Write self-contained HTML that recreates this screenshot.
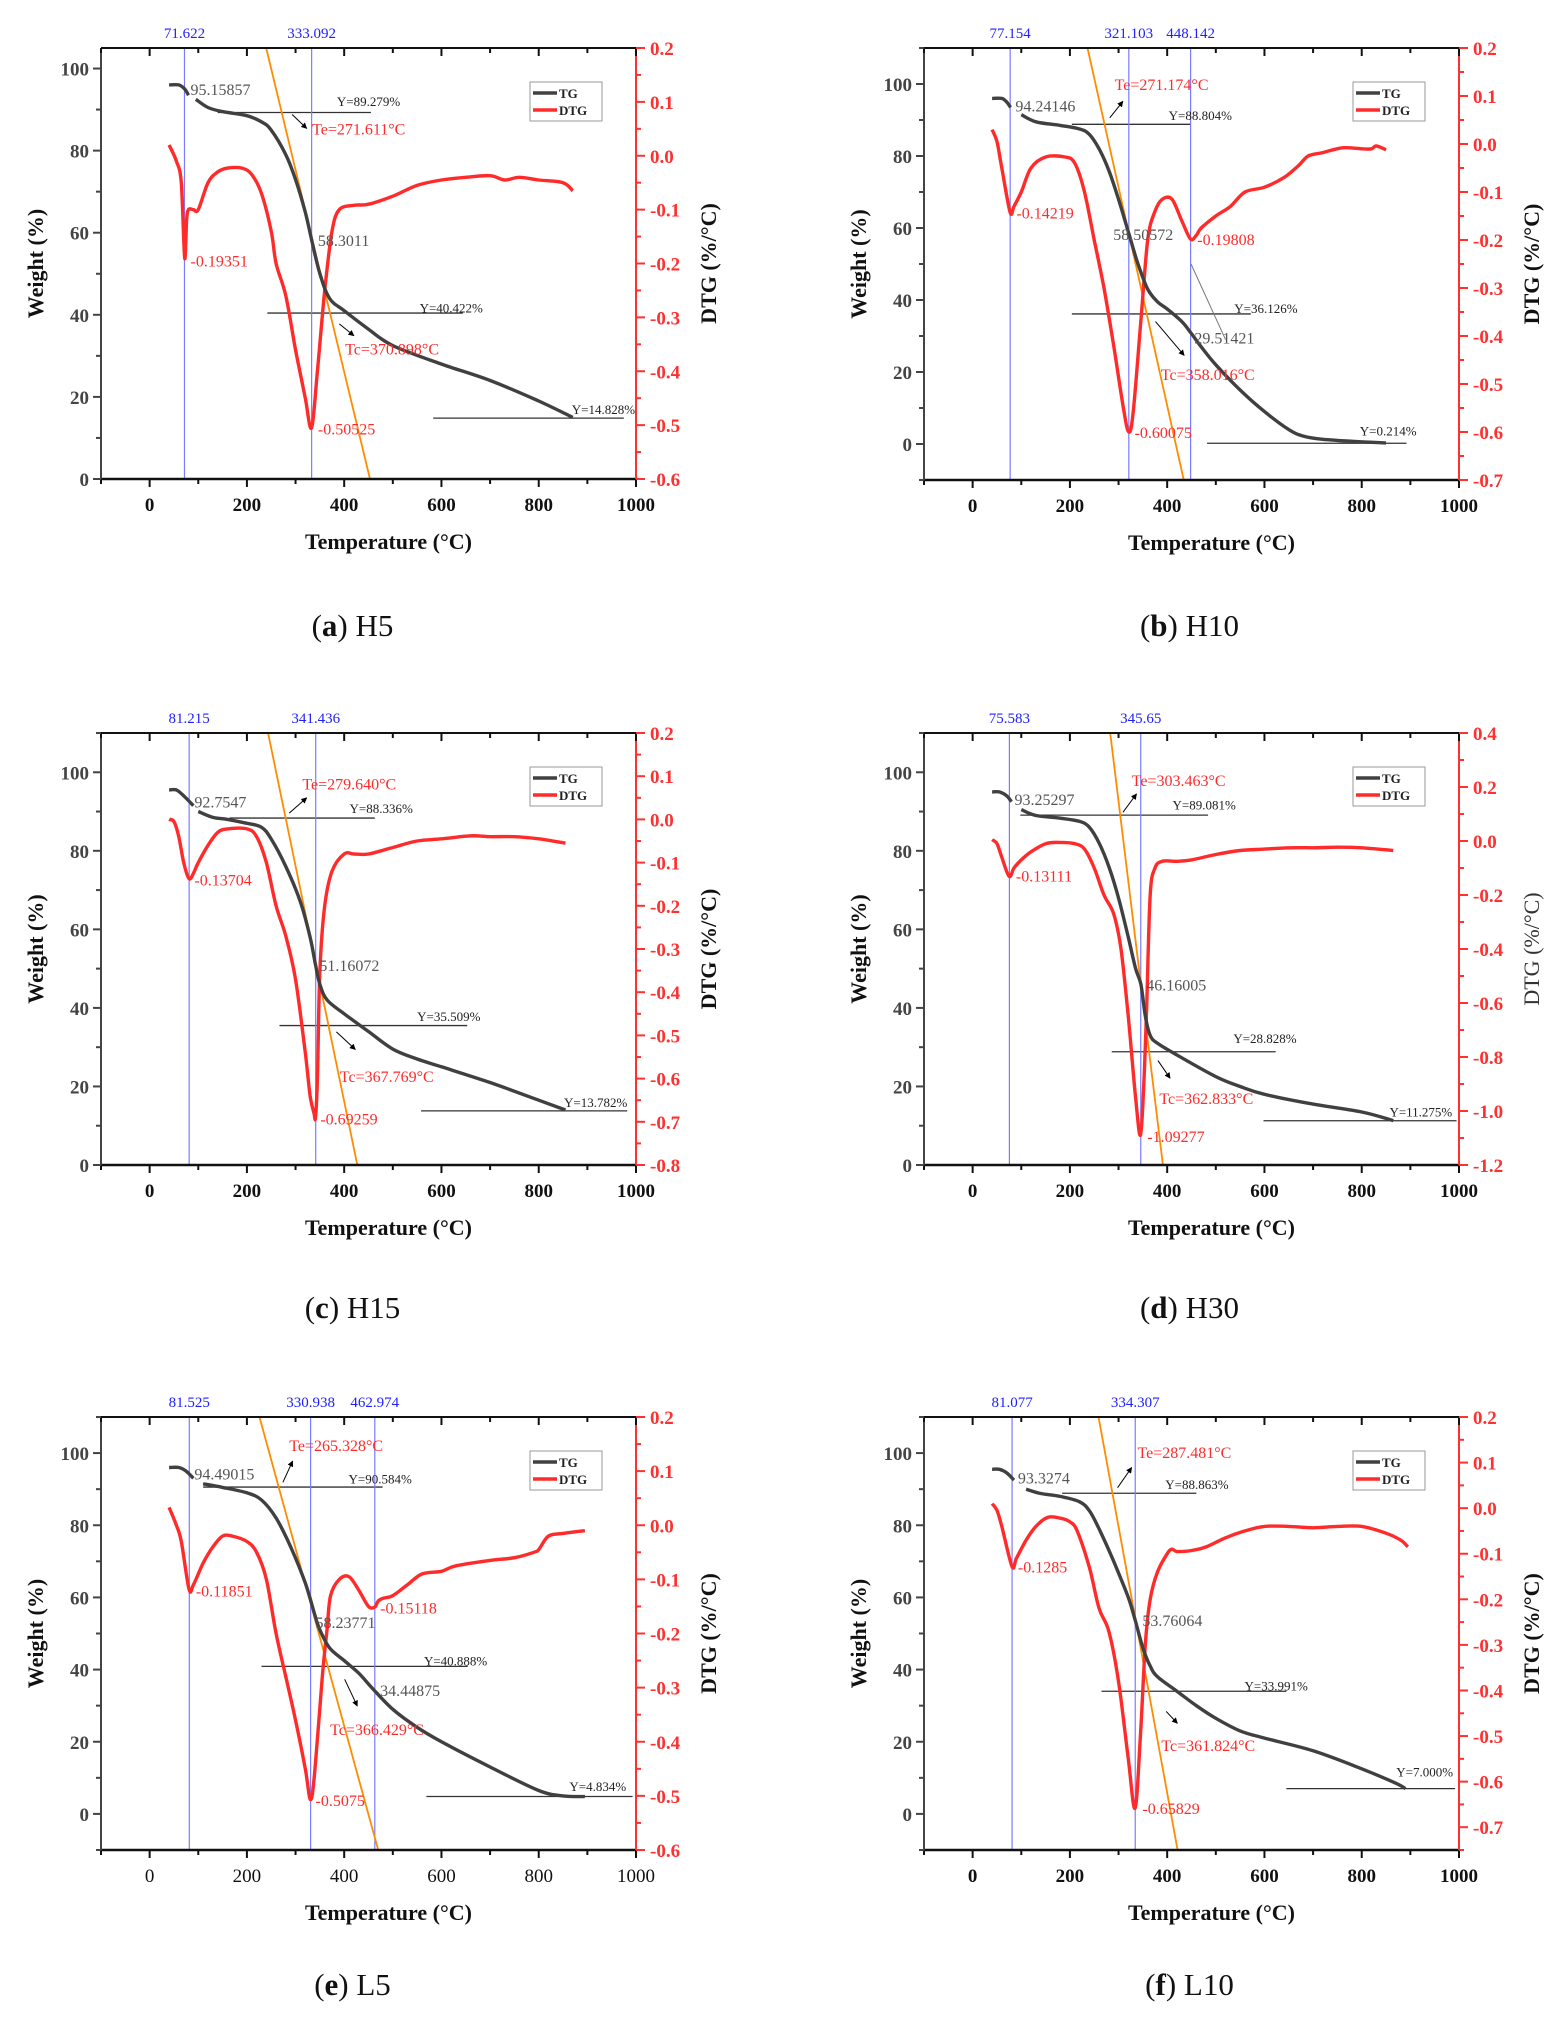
<!DOCTYPE html>
<html><head><meta charset="utf-8">
<style>
html,body{margin:0;padding:0;background:#fff;}
svg{display:block;font-family:"Liberation Serif",serif;}
</style></head>
<body>
<svg id="fig" width="1552" height="2018" viewBox="0 0 1552 2018" xmlns="http://www.w3.org/2000/svg"></svg>
<script>
// ---------- data (temperature °C, weight %, DTG %/°C) ----------
const tgT_a=[40,60,72,80,null,95,120,150,200,230,250,280,300,320,333,350,370,400,450,500,600,700,800,870];
const tgW_a=[96,96,95,93.5,null,92.5,90.5,89.5,88.5,87,85,79,73,65,58.3,50,44,41,36.5,32.5,28,24,19,15];
const dT_a=[40,55,65,72,76,80,90,100,120,140,160,190,210,230,250,260,280,300,320,333,345,360,375,390,420,450,500,550,600,650,700,730,760,800,850,870];
const dV_a=[0.02,-0.01,-0.05,-0.19,-0.12,-0.1,-0.1,-0.1,-0.05,-0.03,-0.023,-0.023,-0.035,-0.07,-0.14,-0.2,-0.26,-0.36,-0.45,-0.505,-0.4,-0.25,-0.14,-0.1,-0.092,-0.09,-0.075,-0.055,-0.045,-0.04,-0.037,-0.045,-0.04,-0.045,-0.05,-0.065];

const tgT_b=[40,60,70,78,null,100,130,180,220,240,260,280,300,321,340,360,380,400,430,448,470,500,550,600,650,680,720,800,850];
const tgW_b=[96,96,95,93.5,null,91.5,89.5,88.5,87.5,86,82,76,68,58.5,50,43,39.5,37.5,34,31,27,22,15,9,4,2.2,1.3,0.6,0.3];
const dT_b=[40,50,60,77,85,100,120,150,190,210,230,250,270,290,310,321,330,345,360,375,390,410,430,448,460,470,500,530,560,600,640,670,690,720,760,800,820,830,850];
const dV_b=[0.03,0.005,-0.05,-0.142,-0.13,-0.1,-0.05,-0.027,-0.027,-0.04,-0.1,-0.2,-0.3,-0.42,-0.55,-0.6,-0.56,-0.38,-0.2,-0.14,-0.115,-0.115,-0.16,-0.198,-0.19,-0.175,-0.15,-0.13,-0.1,-0.09,-0.07,-0.045,-0.025,-0.018,-0.008,-0.01,-0.01,-0.004,-0.012];

const tgT_c=[40,55,70,90,null,100,130,160,200,230,250,280,310,330,341,350,365,400,450,500,550,600,700,800,855];
const tgW_c=[95.5,95.5,94,91.5,null,90,88.5,88,87,86,83,76,67,58,51,46,42,38.5,34,29.5,27,25,21,16.5,14];
const dT_c=[40,50,60,70,81,90,100,120,140,160,200,220,240,260,280,300,320,330,338,341,345,350,360,375,400,420,450,500,550,600,660,700,750,800,855];
const dV_c=[0,-0.005,-0.04,-0.1,-0.137,-0.125,-0.1,-0.06,-0.03,-0.022,-0.022,-0.04,-0.1,-0.2,-0.27,-0.37,-0.54,-0.64,-0.68,-0.69,-0.6,-0.35,-0.2,-0.12,-0.08,-0.08,-0.08,-0.065,-0.05,-0.045,-0.038,-0.04,-0.04,-0.045,-0.055];

const tgT_d=[40,55,70,80,null,100,130,180,220,240,260,280,300,320,335,346,355,365,380,420,500,550,600,700,800,865];
const tgW_d=[95,95,94,92.5,null,90.5,89,88.3,87.5,86,82,76,68,58,50,46,38,33,31,28,22.5,20,18,15.5,13.5,11.3];
const dT_d=[40,50,60,75,85,100,120,150,180,210,230,250,270,290,305,320,335,345,352,358,365,375,390,420,450,500,550,600,650,700,750,800,865];
const dV_d=[0.005,-0.01,-0.06,-0.131,-0.1,-0.07,-0.04,-0.01,-0.005,-0.01,-0.03,-0.1,-0.2,-0.27,-0.4,-0.65,-0.95,-1.09,-0.9,-0.6,-0.2,-0.1,-0.075,-0.075,-0.07,-0.05,-0.035,-0.03,-0.025,-0.025,-0.023,-0.025,-0.035];

const tgT_e=[40,60,75,90,null,110,150,200,230,260,290,320,340,350,370,400,430,460,500,550,600,700,800,850,895];
const tgW_e=[96,96,95,93,null,91.5,90.5,89,87,82,74,64,55,51,46,42.5,39,34.5,29,24,20,13,6.5,5,4.8];
const dT_e=[40,55,65,81,90,110,130,150,170,200,220,240,260,280,300,320,331,340,355,365,372,390,410,430,450,463,470,480,500,530,560,600,630,700,750,790,800,820,850,895];
const dV_e=[0.033,0,-0.03,-0.118,-0.11,-0.07,-0.04,-0.02,-0.02,-0.03,-0.05,-0.1,-0.2,-0.28,-0.36,-0.45,-0.507,-0.45,-0.28,-0.19,-0.13,-0.1,-0.095,-0.12,-0.15,-0.151,-0.14,-0.135,-0.13,-0.11,-0.09,-0.085,-0.075,-0.065,-0.06,-0.05,-0.045,-0.02,-0.015,-0.01];

const tgT_f=[40,55,70,85,null,110,140,180,220,240,260,290,320,334,350,365,380,420,460,500,550,600,700,800,870,890];
const tgW_f=[95.5,95.5,94.5,92.5,null,90,88.8,88,86.5,84,79,70,60,53.8,46,41,38,34,30,26.5,23,21,17.5,12.5,8.5,7];
const dT_f=[40,50,60,81,90,110,130,155,180,200,215,240,260,280,300,320,334,345,355,365,380,400,410,420,450,480,520,560,600,650,700,750,800,850,880,895];
const dV_f=[0.01,-0.005,-0.04,-0.128,-0.11,-0.07,-0.04,-0.02,-0.022,-0.03,-0.05,-0.13,-0.22,-0.27,-0.38,-0.55,-0.658,-0.5,-0.3,-0.2,-0.14,-0.1,-0.09,-0.095,-0.093,-0.085,-0.065,-0.05,-0.04,-0.04,-0.043,-0.04,-0.04,-0.055,-0.07,-0.085];

const peaks_a=["71.622","333.092"];
const peaks_b=["77.154","321.103","448.142"];
const peaks_c=["81.215","341.436"];
const peaks_d=["75.583","345.65"];
const peaks_e=["81.525","330.938","462.974"];
const peaks_f=["81.077","334.307"];

const onset_a=[271.611,89.279], endset_a=[370.898,40.422];
const onset_b=[271.174,88.804], endset_b=[358.016,36.126];
const onset_c=[279.640,88.336], endset_c=[367.769,35.509];
const onset_d=[303.463,89.081], endset_d=[362.833,28.828];
const onset_e=[265.328,90.584], endset_e=[366.429,40.888];
const onset_f=[287.481,88.863], endset_f=[361.824,33.991];

const hlines_a=[[89.279,140,455],[40.422,242,644],[14.828,583,975]];
const hlines_b=[[88.804,204,449],[36.126,204,572],[0.214,482,892]];
const hlines_c=[[88.336,164,463],[35.509,267,653],[13.782,558,982]];
const hlines_d=[[89.081,98,484],[28.828,286,623],[11.275,598,995]];
const hlines_e=[[90.584,110,479],[40.888,230,654],[4.834,569,993]];
const hlines_f=[[88.863,184,460],[33.991,265,645],[7.000,645,992]];

const labels_a=[["95.15857",84,94.8,"g"],["Y=89.279%",385,92.1,"y"],["Te=271.611°C",334,85.1,"r"],["58.3011",346,58,"g"],["-0.19351",84,53,"r"],["Y=40.422%",555,41.8,"y"],["Tc=370.898°C",402,31.5,"r"],["-0.50525",346,12.1,"r"],["Y=14.828%",868,17.1,"y"]];
const labels_b=[["94.24146",88,93.8,"g"],["Y=88.804%",403,91.4,"y"],["Te=271.174°C",292,99.7,"r"],["58.50572",289,58.1,"g"],["-0.14219",90,64,"r"],["-0.19808",462,56.6,"r"],["Y=36.126%",538,37.8,"y"],["29.51421",456,29.3,"g"],["Tc=358.016°C",387,19.1,"r"],["-0.60075",333,3,"r"],["Y=0.214%",796,3.8,"y"]];
const labels_c=[["92.7547",92,92.3,"g"],["Y=88.336%",411,90.9,"y"],["Te=279.640°C",314,96.9,"r"],["51.16072",349,50.7,"g"],["-0.13704",92,72.5,"r"],["Y=35.509%",550,38,"y"],["Tc=367.769°C",391,22.4,"r"],["-0.69259",351,11.6,"r"],["Y=13.782%",852,16,"y"]];
const labels_d=[["93.25297",86,93,"g"],["Y=89.081%",411,91.8,"y"],["Te=303.463°C",327,97.8,"r"],["46.16005",357,45.7,"g"],["-0.13111",89,73.5,"r"],["Y=28.828%",536,32.3,"y"],["Tc=362.833°C",384,16.8,"r"],["-1.09277",359,7.1,"r"],["Y=11.275%",857,13.6,"y"]];
const labels_e=[["94.49015",92,94,"g"],["Y=90.584%",409,93,"y"],["Te=265.328°C",287,102,"r"],["58.23771",341,52.9,"g"],["-0.11851",95,61.6,"r"],["-0.15118",474,56.9,"r"],["Y=40.888%",564,42.5,"y"],["34.44875",474,34,"g"],["Tc=366.429°C",371,23.2,"r"],["-0.5075",341,3.6,"r"],["Y=4.834%",863,7.7,"y"]];
const labels_f=[["93.3274",93,92.9,"g"],["Y=88.863%",396,91.4,"y"],["Te=287.481°C",339,100,"r"],["53.76064",349,53.4,"g"],["-0.1285",93,68.3,"r"],["Y=33.991%",559,35.6,"y"],["Tc=361.824°C",388,18.8,"r"],["-0.65829",349,1.3,"r"],["Y=7.000%",871,11.8,"y"]];

const arrows_a=[[293,88.8,323,85.4],[390,37.8,420,34.9]];
const arrows_b=[[282,90.6,309,95.2],[376,34,435,24.6]];
const arrows_c=[[287,89.6,323,93.5],[384,33.9,423,29.4]];
const arrows_d=[[309,89.8,337,94.5],[381,26.6,406,22.1]];
const arrows_e=[[274,91.9,294,97.8],[401,37.3,427,29.9]];
const arrows_f=[[298,90.4,327,96],[398,28.4,421,25.1]];

const xTicks=[0,200,400,600,800,1000];
const wTicks=[0,20,40,60,80,100];

const panels=[
 {id:"a",cap:"H5",L:101,R:636,T:48,B:479,wMin:0,wMax:105,dMin:-0.6,dMax:0.2,dStep:0.1,tgT:tgT_a,tgW:tgW_a,dT:dT_a,dV:dV_a,pk:peaks_a,on:onset_a,en:endset_a,hl:hlines_a,lb:labels_a,ar:arrows_a,capY:636,dtgBold:true,xBold:true},
 {id:"b",cap:"H10",L:924,R:1459,T:48,B:480,wMin:-10,wMax:110,dMin:-0.7,dMax:0.2,dStep:0.1,tgT:tgT_b,tgW:tgW_b,dT:dT_b,dV:dV_b,pk:peaks_b,on:onset_b,en:endset_b,hl:hlines_b,lb:labels_b,ar:arrows_b,capY:636,dtgBold:true,xBold:true,leader:[449,50,520,29]},
 {id:"c",cap:"H15",L:101,R:636,T:733,B:1165,wMin:0,wMax:110,dMin:-0.8,dMax:0.2,dStep:0.1,tgT:tgT_c,tgW:tgW_c,dT:dT_c,dV:dV_c,pk:peaks_c,on:onset_c,en:endset_c,hl:hlines_c,lb:labels_c,ar:arrows_c,capY:1318,dtgBold:true,xBold:true},
 {id:"d",cap:"H30",L:924,R:1459,T:733,B:1165,wMin:0,wMax:110,dMin:-1.2,dMax:0.4,dStep:0.2,tgT:tgT_d,tgW:tgW_d,dT:dT_d,dV:dV_d,pk:peaks_d,on:onset_d,en:endset_d,hl:hlines_d,lb:labels_d,ar:arrows_d,capY:1318,dtgBold:false,xBold:true},
 {id:"e",cap:"L5",L:101,R:636,T:1417,B:1850,wMin:-10,wMax:110,dMin:-0.6,dMax:0.2,dStep:0.1,tgT:tgT_e,tgW:tgW_e,dT:dT_e,dV:dV_e,pk:peaks_e,on:onset_e,en:endset_e,hl:hlines_e,lb:labels_e,ar:arrows_e,capY:1995,dtgBold:true,xBold:false},
 {id:"f",cap:"L10",L:924,R:1459,T:1417,B:1850,wMin:-10,wMax:110,dMin:-0.75,dMax:0.2,dStep:0.1,tgT:tgT_f,tgW:tgW_f,dT:dT_f,dV:dV_f,pk:peaks_f,on:onset_f,en:endset_f,hl:hlines_f,lb:labels_f,ar:arrows_f,capY:1995,dtgBold:true,xBold:true}
];

const NS="http://www.w3.org/2000/svg";
const svg=document.getElementById("fig");
function mk(parent,tag,attrs,txt){const e=document.createElementNS(NS,tag);for(const k in attrs)e.setAttribute(k,attrs[k]);if(txt!==undefined)e.textContent=txt;parent.appendChild(e);return e;}
// Catmull-Rom smoothed path through pixel points
function smooth(pts){
  if(!pts.length)return "";
  let d="M"+pts[0][0].toFixed(1)+","+pts[0][1].toFixed(1);
  for(let i=0;i<pts.length-1;i++){
    const p0=pts[i-1]||pts[i],p1=pts[i],p2=pts[i+1],p3=pts[i+2]||p2;
    const c1=[p1[0]+(p2[0]-p0[0])/6,p1[1]+(p2[1]-p0[1])/6];
    const c2=[p2[0]-(p3[0]-p1[0])/6,p2[1]-(p3[1]-p1[1])/6];
    d+="C"+c1[0].toFixed(1)+","+c1[1].toFixed(1)+" "+c2[0].toFixed(1)+","+c2[1].toFixed(1)+" "+p2[0].toFixed(1)+","+p2[1].toFixed(1);
  }
  return d;
}

const defs=mk(svg,"defs",{});
const mkr=mk(defs,"marker",{id:"ah",viewBox:"0 0 10 10",refX:"9",refY:"5",markerWidth:"6",markerHeight:"6",orient:"auto"});
mk(mkr,"path",{d:"M0,0 L10,5 L0,10 z",fill:"#000"});

panels.forEach(p=>{
  const X=t=>p.L+(t+100)/1100*(p.R-p.L);
  const YW=w=>p.B-(w-p.wMin)/(p.wMax-p.wMin)*(p.B-p.T);
  const YD=d=>p.B-(d-p.dMin)/(p.dMax-p.dMin)*(p.B-p.T);
  const g=mk(svg,"g",{});
  
  
  const cp="clip"+p.id;
  const cl=mk(defs,"clipPath",{id:cp});
  mk(cl,"rect",{x:p.L,y:p.T,width:p.R-p.L,height:p.B-p.T});
  const plot=mk(g,"g",{"clip-path":"url(#"+cp+")"});

  p.hl.forEach((h,i)=>{
    const l=mk(plot,"line",{x1:X(h[1]),x2:X(h[2]),y1:YW(h[0]),y2:YW(h[0]),stroke:"#333","stroke-width":1.3});
    
    
  });
  p.pk.forEach((s,i)=>{
    const t=parseFloat(s);
    const l=mk(plot,"line",{x1:X(t),x2:X(t),y1:p.T,y2:p.B,stroke:"#7b7bff","stroke-width":1.2});
    
    
    const tx=mk(g,"text",{x:X(t),y:p.T-10,"text-anchor":"middle","font-size":15,fill:"#2020ff"},s);
    
    
  });
  const sl=(p.en[1]-p.on[1])/(p.en[0]-p.on[0]);
  const tTop=p.on[0]+(p.wMax-p.on[1])/sl, tBot=p.on[0]+(p.wMin-p.on[1])/sl;
  const tl=mk(plot,"line",{x1:X(tTop),y1:YW(p.wMax),x2:X(tBot),y2:YW(p.wMin),stroke:"#ff8c00","stroke-width":1.8});
  
  

  const dpts=p.dT.map((t,i)=>[X(t),YD(p.dV[i])]);
  const dp=mk(plot,"path",{d:smooth(dpts),fill:"none",stroke:"#ff2b2b","stroke-width":3.4,"stroke-linejoin":"round"});
  
  
  let segs=[[]];
  p.tgT.forEach((t,i)=>{if(t===null){segs.push([]);return;}segs[segs.length-1].push([X(t),YW(p.tgW[i])]);});
  const tp=mk(plot,"path",{d:segs.map(smooth).join(""),fill:"none",stroke:"#404040","stroke-width":3.4,"stroke-linejoin":"round"});
  
  

  p.ar.forEach((a,i)=>{
    const l=mk(g,"line",{x1:X(a[0]),y1:YW(a[1]),x2:X(a[2]),y2:YW(a[3]),stroke:"#000","stroke-width":1,"marker-end":"url(#ah)"});
    
    
  });
  if(p.leader){
    const l=mk(g,"line",{x1:X(p.leader[0]),y1:YW(p.leader[1]),x2:X(p.leader[2]),y2:YW(p.leader[3]),stroke:"#777","stroke-width":1});
    
    
  }
  p.lb.forEach((lb,i)=>{
    const col=lb[3]==="r"?"#ff2b2b":(lb[3]==="g"?"#555":"#222");
    const fs=lb[3]==="y"?13:16;
    const t=mk(g,"text",{x:X(lb[1]),y:YW(lb[2])+5,"font-size":fs,fill:col},lb[0]);
    
    
  });

  const ax=mk(g,"g",{});
  
  
  mk(ax,"line",{x1:p.L,x2:p.R,y1:p.T,y2:p.T,stroke:"#111","stroke-width":2});
  mk(ax,"line",{x1:p.L,x2:p.R,y1:p.B,y2:p.B,stroke:"#111","stroke-width":2.5});
  mk(ax,"line",{x1:p.L,x2:p.L,y1:p.T,y2:p.B,stroke:"#444","stroke-width":2});
  mk(ax,"line",{x1:p.R,x2:p.R,y1:p.T,y2:p.B,stroke:"#ff3030","stroke-width":2});
  for(let t=-100;t<=1000;t+=100){
    const maj=t%200===0;
    mk(ax,"line",{x1:X(t),x2:X(t),y1:p.B,y2:p.B+(maj?8:5),stroke:"#111","stroke-width":2});
    mk(ax,"line",{x1:X(t),x2:X(t),y1:p.T,y2:p.T+(maj?8:5),stroke:"#111","stroke-width":2});
  }
  xTicks.forEach(t=>{
    const tx=mk(g,"text",{x:X(t),y:p.B+32,"text-anchor":"middle","font-size":19,"font-weight":p.xBold?"bold":"normal",fill:"#111"},String(t));
    
    
  });
  for(let w=Math.ceil(p.wMin/10)*10;w<=p.wMax;w+=10){
    const maj=w%20===0;
    mk(ax,"line",{x1:p.L,x2:p.L-(maj?8:5),y1:YW(w),y2:YW(w),stroke:"#444","stroke-width":2});
  }
  wTicks.forEach(w=>{
    const tx=mk(g,"text",{x:p.L-12,y:YW(w)+7,"text-anchor":"end","font-size":19,"font-weight":"bold",fill:"#444"},String(w));
    
    
  });
  const n=Math.round((p.dMax-p.dMin)/(p.dStep/2)+1e-6);
  for(let i=0;i<=n;i++){
    const v=p.dMax-i*p.dStep/2;
    if(v<p.dMin-1e-9)break;
    const maj=i%2===0;
    mk(ax,"line",{x1:p.R,x2:p.R+(maj?9:5),y1:YD(v),y2:YD(v),stroke:"#ff3030","stroke-width":2});
    if(maj){
      const tx=mk(g,"text",{x:p.R+14,y:YD(v)+7,"font-size":19,"font-weight":"bold",fill:"#ff3030"},(Math.abs(v)<1e-9?0:v).toFixed(1));
      
      
    }
  }
  const cy=(p.T+p.B)/2;
  const wt=mk(g,"text",{x:0,y:0,transform:`translate(${p.L-58},${cy}) rotate(-90)`,"text-anchor":"middle","font-size":22,"font-weight":"bold",fill:"#111"},"Weight (%)");
  
  
  const dt=mk(g,"text",{x:0,y:0,transform:`translate(${p.R+80},${cy}) rotate(-90)`,"text-anchor":"middle","font-size":22,"font-weight":p.dtgBold?"bold":"normal",fill:p.dtgBold?"#111":"#333"},"DTG (%/°C)");
  
  
  const xt=mk(g,"text",{x:(p.L+p.R)/2+20,y:p.B+70,"text-anchor":"middle","font-size":22,"font-weight":"bold",fill:"#111"},"Temperature (°C)");
  
  

  const lg=mk(g,"g",{});
  
  
  const lx=p.R-106,ly=p.T+34;
  mk(lg,"rect",{x:lx,y:ly,width:72,height:39,fill:"#fff",stroke:"#999","stroke-width":1});
  mk(lg,"line",{x1:lx+3,x2:lx+27,y1:ly+11,y2:ly+11,stroke:"#404040","stroke-width":3.5});
  mk(lg,"text",{x:lx+29,y:ly+16,"font-size":13,"font-weight":"bold",fill:"#222"},"TG");
  mk(lg,"line",{x1:lx+3,x2:lx+27,y1:ly+28,y2:ly+28,stroke:"#ff2b2b","stroke-width":3.5});
  mk(lg,"text",{x:lx+29,y:ly+33,"font-size":13,"font-weight":"bold",fill:"#222"},"DTG");

  const cap=mk(g,"text",{x:(p.L+p.R)/2-(p.id==="a"||p.id==="c"||p.id==="e"?16:2),y:p.capY,"text-anchor":"middle","font-size":31,fill:"#111"});
  
  
  mk(cap,"tspan",{},"(");
  mk(cap,"tspan",{"font-weight":"bold"},p.id);
  mk(cap,"tspan",{},") "+p.cap);
});
</script>
</body></html>
